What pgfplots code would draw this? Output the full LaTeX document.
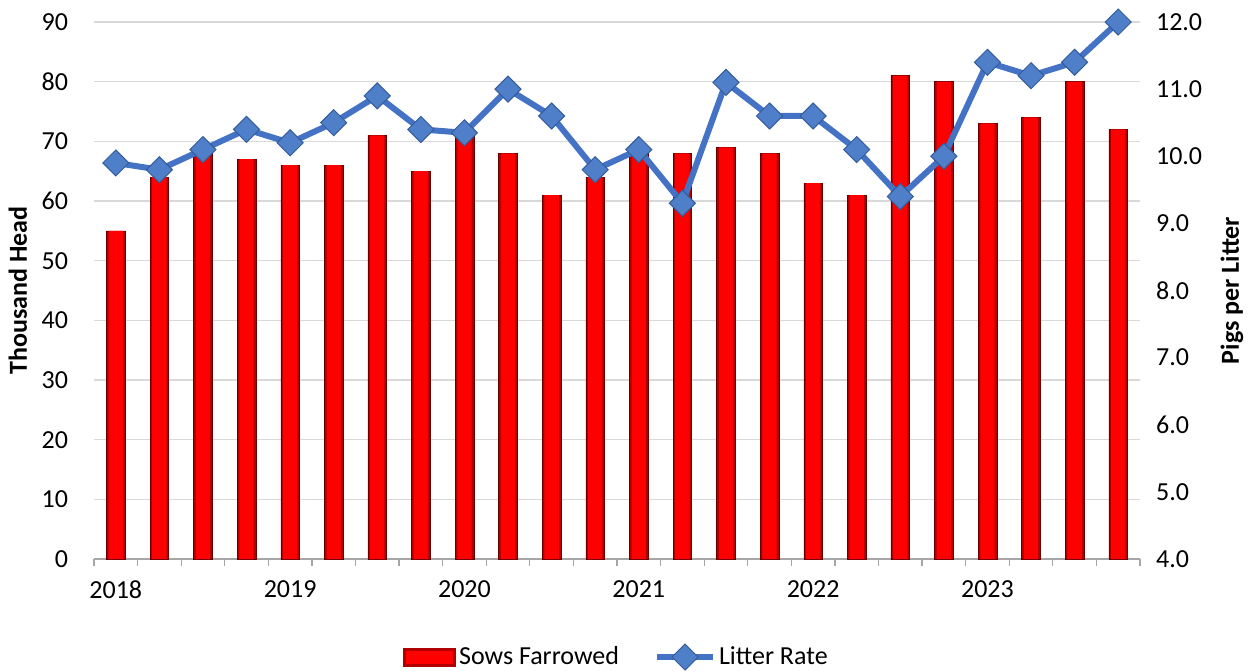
\documentclass[border=0pt]{standalone}
\usepackage{fontspec}
\setmainfont{Carlito}
\usepackage{pgfplots}
\pgfplotsset{compat=1.18}
\definecolor{lineblue}{HTML}{4472C4}
\definecolor{markblue}{HTML}{4F7FC8}
\definecolor{markedge}{HTML}{345C9C}
\definecolor{gridgray}{HTML}{D9D9D9}
\definecolor{axgray}{HTML}{A6A6A6}
\definecolor{darkred}{HTML}{B00000}
\pgfplotsset{
  linelegend/.style={legend image code/.code={\draw[##1, mark repeat=2, mark phase=2] plot coordinates {(0pt,0pt) (14pt,0pt) (28pt,0pt)};}},
  barlegend/.style={legend image code/.code={\fill[darkred] (0pt,-4.5pt) rectangle (26pt,4.5pt); \fill[red] (1.5pt,-3pt) rectangle (24.5pt,3pt);}},
}
\pgfplotstableread{
x sows litter
1 55 9.9
2 64 9.8
3 68 10.1
4 67 10.4
5 66 10.2
6 66 10.5
7 71 10.9
8 65 10.4
9 71 10.35
10 68 11.0
11 61 10.6
12 64 9.8
13 68 10.1
14 68 9.3
15 69 11.1
16 68 10.6
17 63 10.6
18 61 10.1
19 81 9.4
20 80 10.0
21 73 11.4
22 74 11.2
23 80 11.4
24 72 12.0
}\datatable
\begin{document}
\fontsize{13}{15}\selectfont
\begin{tikzpicture}
\useasboundingbox (-47pt,-56pt) rectangle (579pt,279.5pt);
\begin{axis}[
  scale only axis, width=523pt, height=268.5pt,
  xmin=0.5, xmax=24.5, ymin=0, ymax=90,
  ytick={0,10,...,90},
  xtick={0.5,1.5,...,24.5}, xticklabels={},
  extra x ticks={1,5,9,13,17,21},
  extra x tick labels={2018,2019,2020,2021,2022,2023},
  extra x tick style={major tick length=0pt},
  axis x line*=bottom, axis y line*=left,
  x axis line style={-, draw=axgray, line width=0.6pt},
  y axis line style={draw=none},
  xtick style={draw=axgray, line width=0.6pt},
  ytick style={draw=none},
  tick align=outside, major tick length=3.5pt,
  ymajorgrids, major grid style={draw=gridgray, line width=0.7pt},
  yticklabel style={xshift=-5pt},
  xticklabel style={yshift=-6.5pt},
  every axis y label/.style={at={(axis description cs:-0.0727,0.5)}, rotate=90, anchor=center},
  ylabel={\bfseries Thousand Head},
  /pgf/number format/assume math mode=true,
]
\addplot[ybar, bar width=0.43, draw=red!40!black, line width=0.25pt, fill=darkred] table[x=x, y=sows] {\datatable};
\addplot[ybar, bar width=0.33, draw=none, fill=red] table[x=x, y=sows] {\datatable};
\end{axis}
\begin{axis}[
  scale only axis, width=523pt, height=268.5pt,
  xmin=0.5, xmax=24.5, ymin=4, ymax=12,
  ytick={4,5,...,12},
  axis x line=none, axis y line*=right,
  y axis line style={draw=none}, ytick style={draw=none},
  tick align=outside, major tick length=3.5pt,
  /pgf/number format/.cd, fixed, fixed zerofill, precision=1, assume math mode=true, /pgfplots/.cd,
  every axis y label/.style={at={(axis description cs:1.088,0.5)}, rotate=90, anchor=center},
  ylabel={\bfseries Pigs per Litter},
  legend style={at={(0.5,-0.1825)}, anchor=center, draw=none, fill=none, legend columns=2,
    /tikz/every even column/.append style={column sep=16pt},
    nodes={inner sep=1.5pt}},
]
\addlegendimage{barlegend}
\addlegendentry{Sows Farrowed}
\addplot[lineblue, line width=3pt, mark=square*, mark size=4.6pt,
  mark options={rotate=45, fill=markblue, draw=markedge, line width=0.5pt},
  linelegend
] table[x=x, y=litter] {\datatable};
\addlegendentry{Litter Rate}
\end{axis}
\end{tikzpicture}
\end{document}
